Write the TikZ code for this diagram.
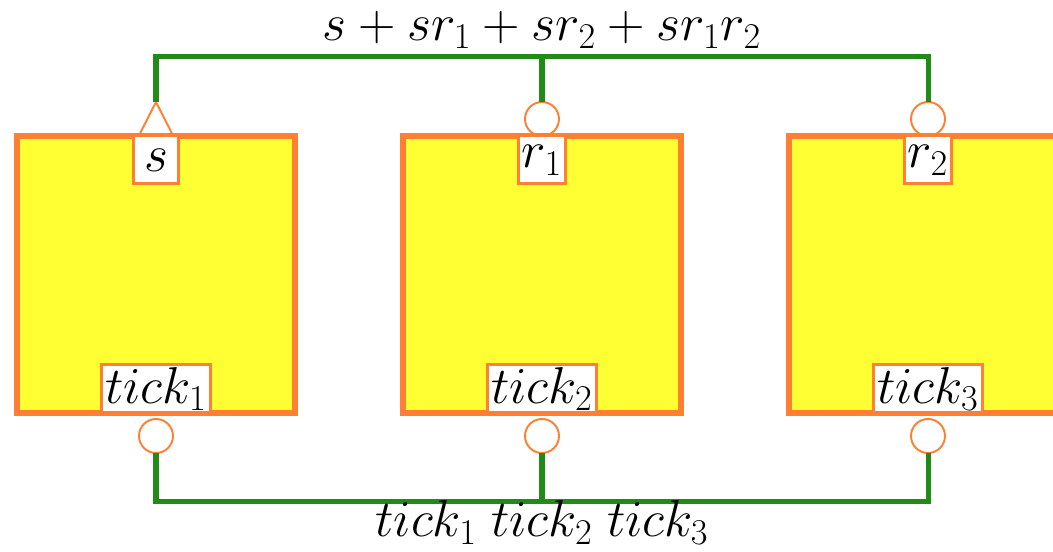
\documentclass[tikz,border=0pt]{standalone}
\usepackage{fix-cm}
\usepackage{amsmath}
\usepackage{xcolor}
\usepackage{tikz}
\usetikzlibrary{
  positioning,
  calc
}

\definecolor{wiregreen}{RGB}{34,139,24}
\definecolor{boxorange}{RGB}{255,128,51}
\definecolor{boxyellow}{RGB}{255,255,51}

\begin{document}
\begin{tikzpicture}[
  font=\fontsize{29.5}{35}\selectfont,
  component/.style={
    rectangle,
    draw=boxorange,
    fill=boxyellow,
    line width=3.4pt,
    outer sep=0pt,
    minimum width=5.56cm,
    minimum height=5.54cm
  },
  portlabel/.style={
    rectangle,
    draw=boxorange,
    fill=white,
    line width=1.7pt,
    outer sep=0pt,
    inner xsep=0.07cm,
    inner ysep=0pt,
    minimum width=0.9cm,
    minimum height=0.96cm
  },
  portcircle/.style={
    circle,
    draw=boxorange,
    line width=1.1pt,
    outer sep=0pt,
    inner sep=0pt,
    minimum size=0.68cm
  },
  portline/.style={
    draw=boxorange,
    line width=1.1pt
  },
  wire/.style={
    draw=wiregreen,
    line width=2.85pt
  }
]
\useasboundingbox (0,0) rectangle (21.06,11.04);

% Components
\node[component] (comp1) at (3.12,5.55) {};
\node[component, right=2.16cm of comp1] (comp2) {};
\node[component, right=2.16cm of comp2] (comp3) {};

% Port labels
\node[portlabel, anchor=north] (lbls) at (comp1.north) {$s$};
\node[portlabel, anchor=north] (lblr1) at (comp2.north) {$r_1$};
\node[portlabel, anchor=north] (lblr2) at (comp3.north) {$r_2$};
\node[portlabel, anchor=south] (lbltick1) at (comp1.south) {$tick_1$};
\node[portlabel, anchor=south] (lbltick2) at (comp2.south) {$tick_2$};
\node[portlabel, anchor=south] (lbltick3) at (comp3.south) {$tick_3$};

% Ports
\coordinate (apex1) at ($(comp1.north)+(0,0.68)$);
\draw[portline] ($(comp1.north)+(-0.33,0.03)$) -- (apex1) -- ($(comp1.north)+(0.33,0.03)$);
\node[portcircle, anchor=south] (inr1) at (comp2.north) {};
\node[portcircle, anchor=south] (inr2) at (comp3.north) {};
\node[portcircle, below=0.12cm of comp1.south] (outtick1) {};
\node[portcircle, below=0.12cm of comp2.south] (outtick2) {};
\node[portcircle, below=0.12cm of comp3.south] (outtick3) {};

% Buses
\coordinate (topbus) at (0,9.9);
\coordinate (botbus) at (0,1.0);
\draw[wire] (apex1) |- (inr2.north |- topbus) -- (inr2.north);
\draw[wire] (inr1.north) -- (inr1.north |- topbus);
\draw[wire] (outtick1.south) |- (outtick3.south |- botbus) -- (outtick3.south);
\draw[wire] (outtick2.south) -- (outtick2.south |- botbus);

% Bus labels
\node[anchor=base] (topsum) at ($(inr1.north |- topbus)+(0,0.33)$) {$s + sr_1 + sr_2 + sr_1r_2$};
\node[anchor=base] (botprod) at ($(outtick2.south |- botbus)+(0,-0.7)$) {$tick_1\;tick_2\;tick_3$};

\end{tikzpicture}
\end{document}
